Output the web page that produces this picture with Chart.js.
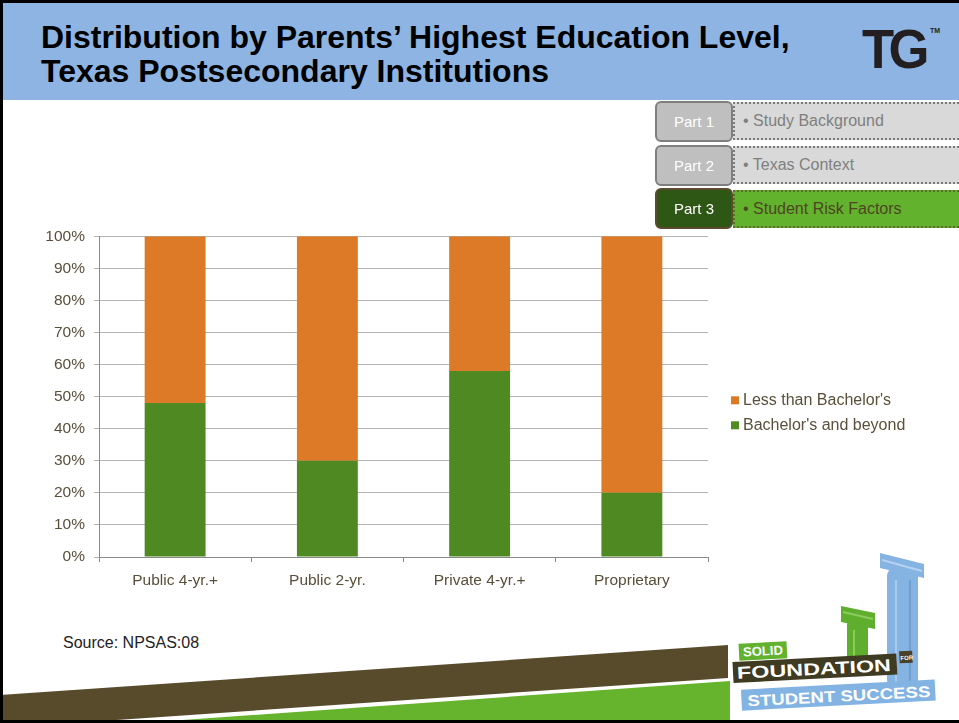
<!DOCTYPE html>
<html>
<head>
<meta charset="utf-8">
<script src="https://cdn.jsdelivr.net/npm/chart.js"></script>
<style>
  html, body { margin: 0; padding: 0; background: #fff; }
  body { font-family: "Liberation Sans", Arial, sans-serif; }
  #slide { position: relative; width: 959px; height: 723px; overflow: hidden; background: #fff; }
  #frame { position: absolute; left: 0; top: 0; width: 959px; height: 723px; box-sizing: border-box;
           border-left: 3px solid #000; border-top: 3px solid #000; border-bottom: 3px solid #000; pointer-events: none; z-index: 10; }
  #titlebar { position: absolute; left: 0; top: 0; width: 959px; height: 100px; background: #8DB4E2; }
  #title { position: absolute; left: 41px; top: 20px; font-weight: bold; font-size: 32px; line-height: 34px; color: #000; white-space: nowrap; }
  #tg { position: absolute; left: 862px; top: 21px; font-weight: bold; font-size: 56px; line-height: 56px; letter-spacing: -6px;
        color: #231f20; transform: scaleX(0.94); transform-origin: left top; }
  #tm { position: absolute; left: 930px; top: 27px; font-size: 7px; font-weight: bold; color: #231f20; }
  .part { position: absolute; left: 655px; width: 78px; height: 41px; box-sizing: border-box; border: 2px solid #7F7F7F;
          border-radius: 6px; background: #BFBFBF; color: #fff; font-size: 15px; line-height: 37px; text-align: center; z-index: 2; }
  .tab { position: absolute; left: 733px; width: 226px; height: 38px; box-sizing: border-box; border: 2px dotted #7A7A7A; border-right: none;
         background: #D9D9D9; color: #7F7F7F; font-size: 16px; line-height: 34px; padding-left: 8px; }
  .part.on { background: #2E5716; border-color: #5B4B2E; }
  .tab.on { background: #63B22E; color: #4D4523; border-color: #5B6B2E; }
  #chartbox { position: absolute; left: 40px; top: 218px; width: 900px; height: 384px; }
  #source { position: absolute; left: 63px; top: 634px; font-size: 16px; color: #222; }
  #deco { position: absolute; left: 0; top: 0; }
</style>
</head>
<body>
<div id="slide">
  <svg id="deco" width="959" height="723">
    <polygon points="0,695 728,645 728,678 0,728" fill="#574B2C"/>
    <polygon points="0,733 730,681 730,723 0,723" fill="#66B32E"/>
    <g transform="translate(720,550)">
      <!-- blue column -->
      <rect x="167" y="18" width="31" height="120" rx="8" fill="#85B3E2"/>
      <line x1="176" y1="30" x2="176" y2="132" stroke="#A9CBEE" stroke-width="2"/>
      <line x1="190" y1="30" x2="190" y2="132" stroke="#6E9FD2" stroke-width="2"/>
      <polygon points="160,3 204,14 204,28 160,18" fill="#85B3E2"/>
      <line x1="162" y1="10" x2="202" y2="21" stroke="#B5D2F0" stroke-width="2"/>
      <!-- green column -->
      <rect x="127" y="70" width="21" height="48" rx="5" fill="#5FAE2E"/>
      <line x1="134" y1="80" x2="134" y2="115" stroke="#8CCB5E" stroke-width="2"/>
      <polygon points="121,56 155,63 155,79 121,72" fill="#5FAE2E"/>
      <line x1="123" y1="62" x2="153" y2="69" stroke="#8CCB5E" stroke-width="2"/>
      <g transform="rotate(-3,110,120)">
        <rect x="20" y="89" width="48" height="17" fill="#62B22F"/>
        <text x="24" y="102" font-family="Liberation Sans" font-weight="bold" font-size="13" fill="#fff" textLength="40" lengthAdjust="spacingAndGlyphs">SOLID</text>
        <rect x="13" y="107" width="164" height="21" fill="#3F3A22"/>
        <text x="17" y="124" font-family="Liberation Sans" font-weight="bold" font-size="17" fill="#fff" textLength="154" lengthAdjust="spacingAndGlyphs">FOUNDATION</text>
        <rect x="180" y="105" width="13" height="12" fill="#4A4128"/>
        <text x="181" y="114" font-family="Liberation Sans" font-weight="bold" font-size="6" fill="#fff">FOR</text>
        <rect x="20" y="135" width="194" height="21" fill="#82B3E3"/>
        <text x="26" y="152" font-family="Liberation Sans" font-weight="bold" font-size="15.5" fill="#fff" textLength="183" lengthAdjust="spacingAndGlyphs">STUDENT SUCCESS</text>
      </g>
    </g>
  </svg>
  <div id="titlebar"></div>
  <div id="title">Distribution by Parents’ Highest Education Level,<br>Texas Postsecondary Institutions</div>
  <div id="tg">TG</div>
  <div id="tm">TM</div>

  <div class="part" style="top:101px">Part 1</div>
  <div class="tab" style="top:102px">• Study Background</div>
  <div class="part" style="top:145px">Part 2</div>
  <div class="tab" style="top:146px">• Texas Context</div>
  <div class="part on" style="top:188px">Part 3</div>
  <div class="tab on" style="top:190px">• Student Risk Factors</div>

  <div id="chartbox"><canvas id="myChart"></canvas></div>
  <div id="source">Source: NPSAS:08</div>
  <div id="frame"></div>
</div>

<script>
// values (percent of students)
var categories = ["Public 4-yr.+", "Public 2-yr.", "Private 4-yr.+", "Proprietary"];
var bachelorsAndBeyond = [48, 30, 58, 20];
var lessThanBachelors = [52, 70, 42, 80];
var yTicks = [0, 10, 20, 30, 40, 50, 60, 70, 80, 90, 100];

var textColor = "#594F3A";

// legend drawn to the right of the plot, orange item first
var sideLegend = {
    id: "sideLegend",
    afterDraw: function (chart) {
        var ctx = chart.ctx;
        var area = chart.chartArea;
        var items = chart.data.datasets.slice().reverse();
        ctx.save();
        ctx.font = "16px 'Liberation Sans', Arial, sans-serif";
        ctx.textBaseline = "middle";
        for (var i = 0; i < items.length; i++) {
            var y = area.top + 164 + i * 25;
            ctx.fillStyle = items[i].backgroundColor;
            ctx.fillRect(area.right + 23, y - 4, 8, 8);
            ctx.fillStyle = textColor;
            ctx.fillText(items[i].label, area.right + 35, y);
        }
        ctx.restore();
    }
};

var myChartRef = document.getElementById("myChart").getContext("2d");
new Chart(myChartRef, {
    type: "bar",
    data: {
        labels: categories,
        datasets: [
            {
                label: "Bachelor's and beyond",
                data: bachelorsAndBeyond,
                backgroundColor: "#4E8A21"
            },
            {
                label: "Less than Bachelor's",
                data: lessThanBachelors,
                backgroundColor: "#DC7A27"
            }
        ]
    },
    options: {
        responsive: true,
        maintainAspectRatio: false,
        animation: false,
        datasets: { bar: { categoryPercentage: 1, barPercentage: 0.4 } },
        layout: { padding: { top: 10, right: 232, left: 0, bottom: 0 } },
        plugins: { legend: { display: false }, tooltip: { enabled: false } },
        scales: {
            x: {
                stacked: true,
                grid: { drawOnChartArea: false, offset: true, tickLength: 5, color: "#8A8A8A" },
                border: { color: "#8A8A8A" },
                ticks: { color: textColor, font: { size: 15.5, family: "'Liberation Sans', Arial" }, padding: 9, maxRotation: 0 },
                afterFit: function (scale) { scale.height = 45; }
            },
            y: {
                stacked: true,
                min: 0,
                max: 100,
                afterBuildTicks: function (scale) {
                    scale.ticks = yTicks.map(function (v) { return { value: v }; });
                },
                grid: { color: "#B4B4B4", tickLength: 5 },
                border: { color: "#8A8A8A" },
                ticks: {
                    color: textColor,
                    font: { size: 15.5, family: "'Liberation Sans', Arial" },
                    padding: 9,
                    callback: function (v) { return v + "%"; }
                },
                afterFit: function (scale) { scale.width = 59; }
            }
        }
    },
    plugins: [sideLegend]
});
</script>
</body>
</html>
